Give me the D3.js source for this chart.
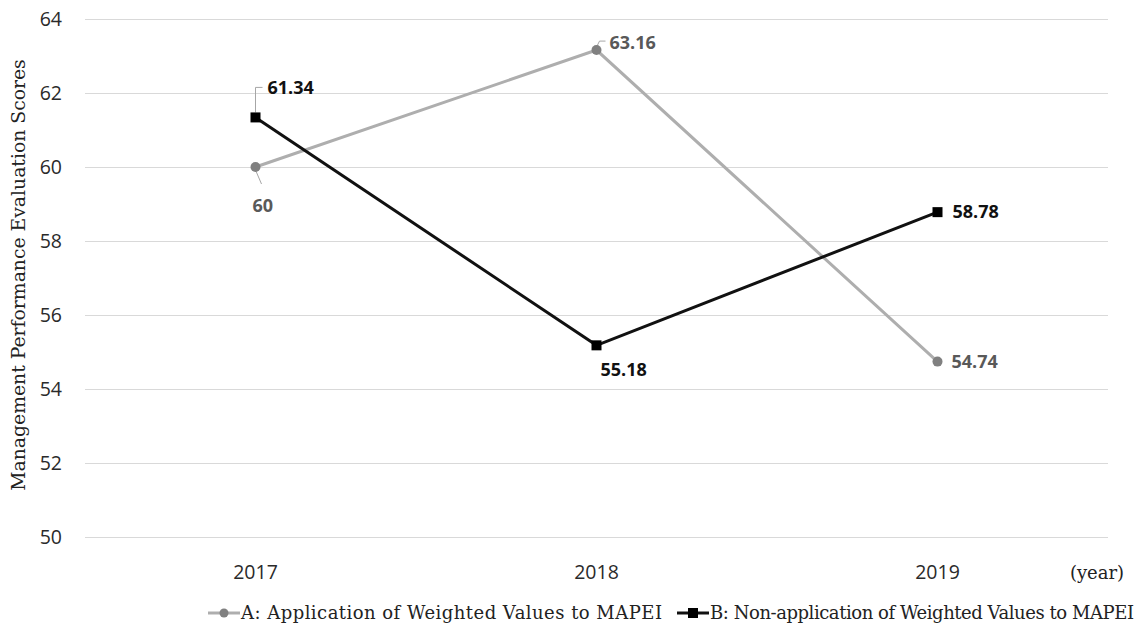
<!DOCTYPE html>
<html>
<head>
<meta charset="utf-8">
<script src="https://cdn.jsdelivr.net/npm/d3@7"></script>
<style>
  body { margin: 0; background: #fff; }
  .tick text { font-family: "Open Sans", "Noto Sans", sans-serif; font-size: 19.5px; fill: #2a2a2a; }
  .serif { font-family: "DejaVu Serif", "Liberation Serif", serif; }
</style>
</head>
<body>
<div id="chart"></div>
<script>
// data
const years = ['2017', '2018', '2019'];
const seriesA = [60, 63.16, 54.74];
const seriesB = [61.34, 55.18, 58.78];
const yTicks = [50, 52, 54, 56, 58, 60, 62, 64];
const legendLabels = ['A: Application of Weighted Values to MAPEI', 'B: Non-application of Weighted Values to MAPEI'];

const width = 1141, height = 628;
const margin = {top: 19, right: 33, bottom: 91, left: 85};
const innerW = width - margin.left - margin.right;
const innerH = height - margin.top - margin.bottom;

const svg = d3.select('#chart').append('svg')
    .attr('width', width)
    .attr('height', height);

const chart = svg.append('g')
    .attr('transform', `translate(${margin.left},${margin.top})`);

const xScale = d3.scaleBand().domain(years).range([0, innerW]);
const yScale = d3.scaleLinear().domain([50, 64]).range([innerH, 0]);
const cx = d => xScale(d) + xScale.bandwidth() / 2;

// gridlines + y labels
const yAxis = d3.axisLeft(yScale).tickValues(yTicks).tickSize(-innerW).tickPadding(23);
chart.append('g')
    .call(yAxis)
    .call(g => g.select('.domain').remove())
    .call(g => g.selectAll('.tick line').attr('stroke', '#d9d9d9').attr('stroke-width', 1.2));

// x labels
const xAxis = d3.axisBottom(xScale).tickSize(0).tickPadding(28);
chart.append('g')
    .attr('transform', `translate(0,${innerH})`)
    .call(xAxis)
    .call(g => g.select('.domain').remove());

// axis titles
svg.append('text')
    .attr('class', 'serif')
    .attr('transform', `translate(25,${margin.top + innerH / 2 - 3}) rotate(-90)`)
    .attr('text-anchor', 'middle')
    .style('font-size', '18.8px')
    .attr('fill', '#222')
    .text('Management Performance Evaluation Scores');

svg.append('text')
    .attr('class', 'serif')
    .attr('x', 1097).attr('y', 579)
    .attr('text-anchor', 'middle')
    .style('font-size', '18px')
    .attr('fill', '#222')
    .text('(year)');

const line = d3.line().x((d, i) => cx(years[i])).y(d => yScale(d));

// series A
chart.append('path')
    .datum(seriesA)
    .attr('d', line)
    .attr('fill', 'none')
    .attr('stroke', '#aeaeae')
    .attr('stroke-width', 3);

// series B
chart.append('path')
    .datum(seriesB)
    .attr('d', line)
    .attr('fill', 'none')
    .attr('stroke', '#111')
    .attr('stroke-width', 3);

// leader lines
const leader = (pts) => chart.append('polyline')
    .attr('points', pts.map(p => p.join(',')).join(' '))
    .attr('fill', 'none')
    .attr('stroke', '#a6a6a6')
    .attr('stroke-width', 1);

leader([[cx('2017'), yScale(seriesB[0]) - 5], [cx('2017'), yScale(seriesB[0]) - 30], [cx('2017') + 7, yScale(seriesB[0]) - 30]]);
leader([[cx('2017'), yScale(seriesA[0]) + 3], [cx('2017') + 6, yScale(seriesA[0]) + 17]]);
leader([[cx('2018'), yScale(seriesA[1]) - 3], [cx('2018') + 3, yScale(seriesA[1]) - 9], [cx('2018') + 9, yScale(seriesA[1]) - 9]]);

chart.selectAll('.ptA')
    .data(seriesA)
  .join('circle')
    .attr('class', 'ptA')
    .attr('cx', (d, i) => cx(years[i]))
    .attr('cy', d => yScale(d))
    .attr('r', 5)
    .attr('fill', '#808080');

chart.selectAll('.ptB')
    .data(seriesB)
  .join('rect')
    .attr('class', 'ptB')
    .attr('x', (d, i) => cx(years[i]) - 5)
    .attr('y', d => yScale(d) - 5)
    .attr('width', 10)
    .attr('height', 10)
    .attr('fill', '#000');

// data labels
const labelStyle = sel => sel
    .style('font-family', '"Open Sans", "Noto Sans", sans-serif')
    .style('font-size', '18px')
    .style('font-weight', 'bold');

const labelsA = [
  {dx: -3, dy: 45},
  {dx: 13, dy: -1},
  {dx: 14, dy: 6}
];
const labelsB = [
  {dx: 12, dy: -23},
  {dx: 4, dy: 31},
  {dx: 15, dy: 6}
];

chart.selectAll('.lblA')
    .data(seriesA)
  .join('text')
    .attr('class', 'lblA')
    .call(labelStyle)
    .attr('fill', '#595959')
    .attr('x', (d, i) => cx(years[i]) + labelsA[i].dx)
    .attr('y', (d, i) => yScale(d) + labelsA[i].dy)
    .text(d => d);

chart.selectAll('.lblB')
    .data(seriesB)
  .join('text')
    .attr('class', 'lblB')
    .call(labelStyle)
    .attr('fill', '#111')
    .attr('x', (d, i) => cx(years[i]) + labelsB[i].dx)
    .attr('y', (d, i) => yScale(d) + labelsB[i].dy)
    .text(d => d);

// legend
const legend = svg.append('g').attr('transform', 'translate(0,613)');
const legendItems = [
  {x: 208, color: '#aeaeae', marker: '#808080', shape: 'circle', label: legendLabels[0]},
  {x: 677, color: '#111', marker: '#000', shape: 'rect', label: legendLabels[1]}
];
legendItems.forEach(it => {
  const g = legend.append('g').attr('transform', `translate(${it.x},0)`);
  g.append('line').attr('x1', 0).attr('x2', 32).attr('y1', 0).attr('y2', 0)
      .attr('stroke', it.color).attr('stroke-width', 3);
  if (it.shape === 'circle') {
    g.append('circle').attr('cx', 16).attr('cy', 0).attr('r', 4.5).attr('fill', it.marker);
  } else {
    g.append('rect').attr('x', 11).attr('y', -5).attr('width', 10).attr('height', 10).attr('fill', it.marker);
  }
  g.append('text')
      .attr('class', 'serif')
      .attr('x', 33).attr('y', 6)
      .attr('textLength', it.shape === 'circle' ? 421 : 424)
      .style('font-size', '18px')
      .attr('fill', '#222')
      .text(it.label);
});
</script>
</body>
</html>
